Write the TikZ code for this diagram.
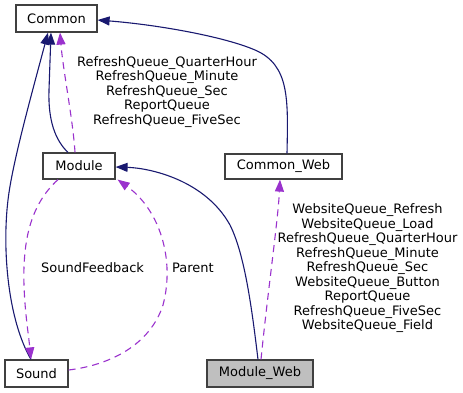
\documentclass[tikz,border=0pt]{standalone}
\usepackage{fontspec}
\setmainfont{DejaVu Sans}
\usetikzlibrary{arrows.meta}
\definecolor{inherit}{HTML}{191970}
\definecolor{usage}{HTML}{9A32CD}
\definecolor{boxline}{HTML}{404040}
\definecolor{boxfill}{HTML}{BFBFBF}
\tikzset{
  cls/.style={draw=boxline, line width=1.2bp, fill=white, inner sep=0pt,
    minimum height=26bp, font=\fontsize{13bp}{14.5bp}\selectfont},
  inh/.style={draw=inherit, line width=1.1bp,
    -{Triangle[length=12bp,width=9bp]}, color=inherit},
  use/.style={draw=usage, line width=1.1bp, dash pattern=on 7bp off 5bp,
    -{Triangle[length=12bp,width=9bp]}, color=usage},
  lbl/.style={align=center, inner sep=0pt,
    font=\fontsize{13bp}{14.5bp}\selectfont}
}
\begin{document}
\begin{tikzpicture}[x=1bp, y=-1bp]
\useasboundingbox (0,0) rectangle (463,392);

% classes
\node[cls, minimum width=81bp, minimum height=27bp] (common) at (56.5,18.5) {Common};
\node[cls, minimum width=72bp] (module) at (79,166) {Module};
\node[cls, minimum width=117bp, minimum height=25bp] (cweb) at (283.5,166.5) {Common\_Web};
\node[cls, minimum width=63bp, minimum height=27bp] (sound) at (36.5,373.5) {Sound};
\node[cls, fill=boxfill, minimum width=106bp, minimum height=27bp] (mweb) at (260,373.5) {Module\_Web};

% inheritance
\draw[inh] ([xshift=-5.5bp]sound.north) .. controls (8,320) and (2,250) .. (8,200)
   .. controls (12,165) and (30,100) .. ([xshift=-8.5bp]common.south);
\draw[inh] ([xshift=-11bp]module.north) .. controls (55,140) and (48,120) .. (49,90)
   -- ([xshift=-5.5bp]common.south);
\draw[inh] ([xshift=3.5bp]cweb.north) .. controls (288,100) and (290,65) .. (255,50)
   .. controls (225,37) and (160,25) .. ([yshift=-1.5bp]common.east);
\draw[inh] ([xshift=-2bp]mweb.north) .. controls (252,310) and (245,255) .. (230,225)
   .. controls (205,180) and (150,168) .. ([yshift=-1bp]module.east);

% usage
\draw[use] ([xshift=-4bp]module.north) .. controls (73,120) and (63,70) .. ([xshift=3.5bp]common.south);
\draw[use] ([xshift=1bp]mweb.north) .. controls (268,290) and (278,220) .. ([xshift=-3.5bp]cweb.south);
\draw[use] ([xshift=-21bp]module.south) .. controls (30,205) and (25,240) .. (24,267)
   .. controls (23,300) and (28,330) .. ([xshift=-5.5bp]sound.north);
\draw[use] ([yshift=3.5bp]sound.east) .. controls (110,365) and (150,345) .. (163,305)
   .. controls (175,260) and (160,210) .. ([xshift=2bp]module.south east);

% labels
\node[lbl] (lcommon) at (167,92) {RefreshQueue\_QuarterHour\\RefreshQueue\_Minute\\RefreshQueue\_Sec\\ReportQueue\\RefreshQueue\_FiveSec};
\node[lbl] (lcweb) at (367.5,268.5) {WebsiteQueue\_Refresh\\WebsiteQueue\_Load\\RefreshQueue\_QuarterHour\\RefreshQueue\_Minute\\RefreshQueue\_Sec\\WebsiteQueue\_Button\\ReportQueue\\RefreshQueue\_FiveSec\\WebsiteQueue\_Field};
\node[lbl] (lsound) at (92.5,268) {SoundFeedback};
\node[lbl] (lparent) at (193,268) {Parent};
\end{tikzpicture}
\end{document}
